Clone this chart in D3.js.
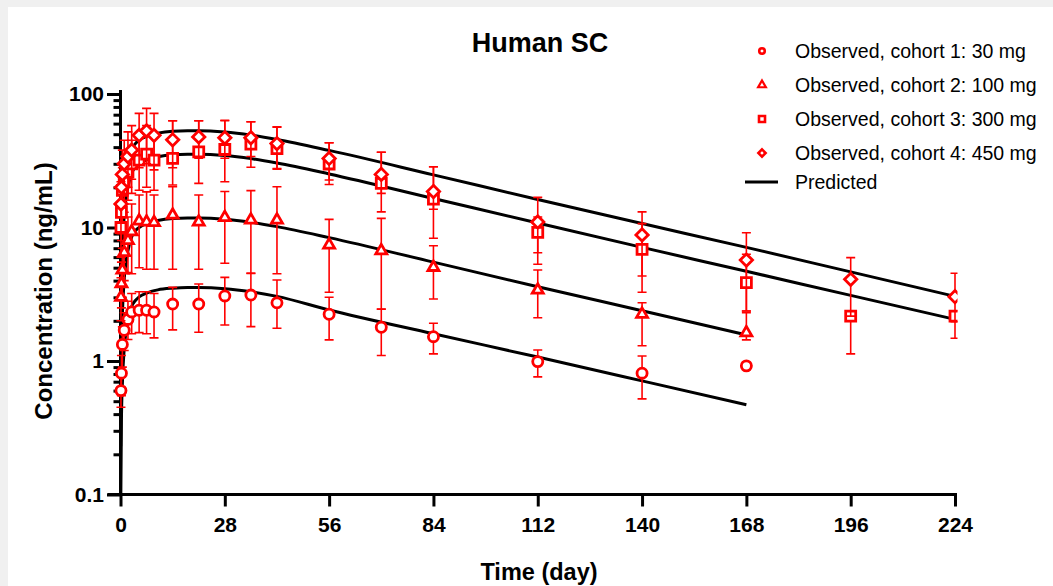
<!DOCTYPE html>
<html>
<head>
  <script src="https://cdnjs.cloudflare.com/ajax/libs/d3/7.8.5/d3.min.js"></script>
  <style>
    body {
      margin: 0;
      background: #f0f0f0;
    }
    svg {
      display: block;
    }
    text {
      font-family: "Liberation Sans", Arial, sans-serif;
      fill: #000;
    }
    .tick text {
      font-size: 21px;
      font-weight: bold;
    }
    .tick line, .domain {
      stroke: #000;
      stroke-width: 3px;
    }
  </style>
</head>
<body>
  <svg id="chart" width="1053" height="586"></svg>

  <script>
    // observed sampling days
    const obsDays = [0.125, 0.25, 0.5, 1, 2, 3, 5, 7, 9, 14, 21, 28, 35, 42, 56, 70, 84, 112, 140, 168, 196, 224];

    // cohort 1: 30 mg (ends at day 168)
    const c1Mean = [0.6, 0.81, 1.33, 1.7, 2.05, 2.33, 2.4, 2.4, 2.33, 2.67, 2.67, 3.07, 3.12, 2.73, 2.24, 1.79, 1.52, 0.99, 0.81, 0.92];
    const c1Low  = [0.45, 0.55, 0.9, 1.2, 1.45, 1.6, 1.63, 1.6, 1.49, 1.71, 1.64, 1.86, 1.81, 1.76, 1.44, 1.1, 1.13, 0.76, 0.52, 0.92];
    const c1High = [0.8, 1.1, 1.8, 2.3, 2.8, 3.2, 3.3, 3.3, 3.2, 3.56, 3.77, 4.23, 4.53, 4.04, 3.0, 2.45, 1.92, 1.21, 1.09, 0.92];

    // cohort 2: 100 mg (ends at day 168)
    const c2Mean = [3.0, 3.8, 4.8, 6.5, 8.0, 9.3, 11.2, 11.0, 10.9, 12.4, 11.0, 11.9, 11.4, 11.4, 7.4, 6.7, 5.03, 3.4, 2.24, 1.63];
    const c2Low  = [2.0, 2.5, 3.0, 4.0, 4.6, 4.5, 5.0, 4.87, 4.87, 4.87, 4.87, 5.4, 4.54, 4.5, 3.27, 2.44, 2.91, 2.11, 1.3, 1.44];
    const c2High = [4.2, 5.5, 7.0, 9.5, 12, 15, 17.5, 18.5, 17.5, 20.2, 17.5, 18.6, 18.9, 20.2, 11.5, 11.7, 7.3, 4.8, 2.73, 2.3];

    // cohort 3: 300 mg
    const c3Mean = [10.0, 13, 19, 22, 26, 30, 32, 35.5, 32, 32.9, 36.9, 38.4, 42.1, 39, 29.9, 21.4, 16.3, 9.2, 6.85, 3.86, 2.17, 2.17];
    const c3Low  = [6, 8, 11, 13, 16, 18, 19, 20, 19, 20.8, 21.4, 22, 28.3, 27.3, 21, 13.1, 8.3, 6.47, 3.27, 2.37, 1.13, 1.97];
    const c3High = [14, 18, 28, 32, 38, 45, 50, 58, 50, 63, 63, 63.6, 62, 56.3, 43.1, 36.6, 28.5, 12, 10.7, 6.3, 2.17, 2.37];

    // cohort 4: 450 mg
    const c4Mean = [15, 20, 25, 30, 34, 38, 49, 53, 49, 45.4, 47.7, 47, 47, 42.5, 32.9, 25, 18.6, 11.0, 8.8, 5.7, 4.09, 3.03];
    const c4Low  = [9, 12, 15, 18, 20, 23, 28, 30, 27, 28, 33, 33, 34, 27.7, 22.7, 18, 13.7, 5.3, 4.33, 2.37, 2.17, 1.48];
    const c4High = [22, 30, 38, 45, 52, 58, 71.6, 78, 71.6, 63, 63, 63, 62, 56.9, 43.1, 36.6, 28.5, 16.8, 13.1, 9.13, 5.95, 4.54];

    // model predictions
    const predDays = [0.05, 0.25, 0.5, 1, 1.5, 2, 3, 4, 5, 7, 10, 14, 18, 21, 28, 35, 42, 56, 84, 112, 140, 168, 196, 224];
    const pred1 = [0.07, 0.36, 0.67, 1.24, 1.67, 2.02, 2.56, 2.84, 3.02, 3.23, 3.41, 3.51, 3.55, 3.55, 3.48, 3.3, 3.05, 2.41, 1.6, 1.07, 0.71, 0.47];
    const pred2 = [0.23, 1.2, 2.23, 4.1, 5.55, 6.7, 8.5, 9.45, 10.0, 10.7, 11.3, 11.7, 11.8, 11.8, 11.55, 10.95, 10.15, 8.4, 5.5, 3.6, 2.38, 1.57];
    const pred3 = [0.7, 3.6, 6.7, 12.3, 16.6, 20.1, 25.5, 28.4, 30.1, 32.2, 33.9, 35.1, 35.4, 35.4, 34.6, 32.8, 30.4, 25.2, 16.5, 10.8, 7.1, 4.7, 3.1, 2.05];
    const pred4 = [1.05, 5.4, 10.0, 18.5, 25, 30.2, 38.3, 42.5, 45.1, 48.2, 50.9, 52.7, 53.1, 53.1, 51.9, 49.2, 45.6, 37.8, 24.8, 16.2, 10.7, 7.1, 4.65, 3.05];

    const xTicks = [0, 28, 56, 84, 112, 140, 168, 196, 224];
    const yTicks = [0.1, 1, 10, 100];
    const legendLabels = [
      "Observed, cohort 1: 30 mg",
      "Observed, cohort 2: 100 mg",
      "Observed, cohort 3: 300 mg",
      "Observed, cohort 4: 450 mg",
      "Predicted"
    ];

    const red = "#ff0000";
    const svg = d3.select("#chart");

    // white panel on the grey page
    svg.append("rect")
      .attr("x", 8).attr("y", 7)
      .attr("width", 1045).attr("height", 579)
      .attr("fill", "#fff");

    const x = d3.scaleLinear().domain([0, 224]).range([120.5, 955]);
    const y = d3.scaleLog().domain([0.1, 100]).range([494.5, 94]);

    svg.append("defs").append("clipPath").attr("id", "plot")
      .append("rect")
      .attr("x", 100).attr("y", 60)
      .attr("width", x(224) + 2.5 - 100).attr("height", y(0.1) - 60);

    // shapes
    const diamond = {
      draw(ctx, size) {
        const r = Math.sqrt(size / 2);
        ctx.moveTo(0, -r); ctx.lineTo(r, 0); ctx.lineTo(0, r); ctx.lineTo(-r, 0); ctx.closePath();
      }
    };
    const symbolTypes = [d3.symbolCircle, d3.symbolTriangle, d3.symbolSquare, diamond];
    const plotSizes = [80, 52, 100, 76];
    const legendSizes = [24, 26, 36, 26];

    const cohorts = [
      { mean: c1Mean, lo: c1Low, hi: c1High },
      { mean: c2Mean, lo: c2Low, hi: c2High },
      { mean: c3Mean, lo: c3Low, hi: c3High },
      { mean: c4Mean, lo: c4Low, hi: c4High }
    ].map((c, i) => ({
      shape: d3.symbol(symbolTypes[i], plotSizes[i])(),
      points: c.mean.map((m, j) => ({ t: obsDays[j], m: m, lo: c.lo[j], hi: c.hi[j] }))
    }));

    const preds = [pred1, pred2, pred3, pred4].map(p => p.map((v, j) => ({ t: predDays[j], v: v })));

    // axes
    const yMinor = [];
    [0.1, 1, 10].forEach(d => { for (let k = 2; k <= 9; k++) yMinor.push(d * k); });

    svg.append("g")
      .attr("transform", `translate(${x(0)},0)`)
      .call(d3.axisLeft(y).tickValues(yMinor).tickSize(7).tickSizeOuter(0).tickFormat(""))
      .call(g => g.select(".domain").remove());

    svg.append("g")
      .attr("transform", `translate(${x(0)},0)`)
      .call(d3.axisLeft(y).tickValues(yTicks).tickSize(13.5).tickSizeOuter(0).tickPadding(3)
        .tickFormat(d => d < 1 ? "0.1" : String(d)))
      .call(g => g.select(".domain").attr("d", `M0,${y(0.1)}V${y(100) - 4}`));

    svg.append("g")
      .attr("transform", `translate(0,${y(0.1)})`)
      .call(d3.axisBottom(x).tickValues(xTicks).tickSize(12).tickSizeOuter(0).tickPadding(11))
      .call(g => g.select(".domain").attr("d", `M${x(0) - 13}, 0H${x(224) + 2}`));

    const plot = svg.append("g").attr("clip-path", "url(#plot)");

    // predicted curves
    const line = d3.line().x(d => x(d.t)).y(d => y(d.v)).curve(d3.curveMonotoneX);
    plot.selectAll(".pred")
      .data(preds)
      .join("path")
      .attr("class", "pred")
      .attr("d", line)
      .attr("fill", "none")
      .attr("stroke", "#000")
      .attr("stroke-width", 3);

    // observed data with error bars
    cohorts.forEach(c => {
      const g = plot.append("g");
      const bars = g.selectAll(".err")
        .data(c.points.filter(p => p.hi > p.lo))
        .join("g")
        .attr("stroke", red)
        .attr("stroke-width", 1.6);
      bars.append("line")
        .attr("x1", d => x(d.t)).attr("x2", d => x(d.t))
        .attr("y1", d => y(d.lo)).attr("y2", d => y(d.hi));
      bars.append("line")
        .attr("x1", d => x(d.t) - 4.5).attr("x2", d => x(d.t) + 4.5)
        .attr("y1", d => y(d.hi)).attr("y2", d => y(d.hi));
      bars.append("line")
        .attr("x1", d => x(d.t) - 4.5).attr("x2", d => x(d.t) + 4.5)
        .attr("y1", d => y(d.lo)).attr("y2", d => y(d.lo));

      g.selectAll(".mark")
        .data(c.points)
        .join("path")
        .attr("d", c.shape)
        .attr("transform", d => `translate(${x(d.t)},${y(d.m)})`)
        .attr("fill", "#fff")
        .attr("stroke", red)
        .attr("stroke-width", 2.8);
    });

    // title and axis labels
    svg.append("text")
      .attr("x", 540).attr("y", 43).attr("dy", "0.35em")
      .attr("text-anchor", "middle")
      .style("font-size", "27px").style("font-weight", "bold")
      .text("Human SC");

    svg.append("text")
      .attr("x", 539).attr("y", 572).attr("dy", "0.35em")
      .attr("text-anchor", "middle")
      .style("font-size", "23.5px").style("font-weight", "bold")
      .text("Time (day)");

    svg.append("text")
      .attr("transform", "translate(44,291) rotate(-90)")
      .attr("dy", "0.35em")
      .attr("text-anchor", "middle")
      .style("font-size", "24px").style("font-weight", "bold")
      .text("Concentration (ng/mL)");

    // legend
    const rowY = [51, 85, 119, 153, 182];
    const legend = svg.append("g");
    legendLabels.forEach((label, i) => {
      const row = legend.append("g").attr("transform", `translate(0,${rowY[i]})`);
      if (i < 4) {
        row.append("path")
          .attr("d", d3.symbol(symbolTypes[i], legendSizes[i])())
          .attr("transform", "translate(762,0)")
          .attr("fill", "#fff")
          .attr("stroke", red)
          .attr("stroke-width", i === 1 ? 2.2 : 2.6);
      } else {
        row.append("line")
          .attr("x1", 745).attr("x2", 778)
          .attr("stroke", "#000").attr("stroke-width", 3);
      }
      row.append("text")
        .attr("x", 795).attr("dy", "0.35em")
        .style("font-size", "19.5px")
        .text(label);
    });
  </script>
</body>
</html>
